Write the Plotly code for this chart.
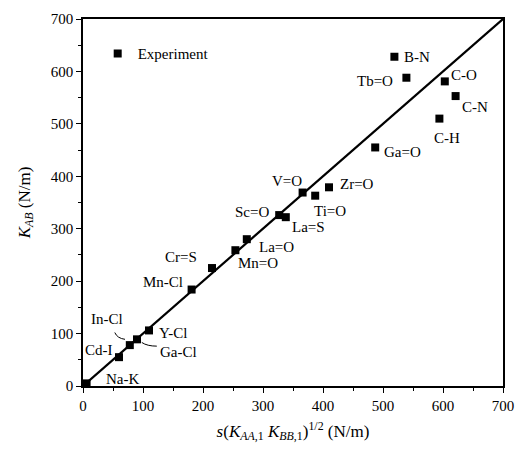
import plotly.graph_objects as go

# Data
labels = ["Na-K", "Cd-I", "In-Cl", "Ga-Cl", "Y-Cl", "Mn-Cl", "Cr=S", "Mn=O", "La=O",
          "La=S", "Sc=O", "V=O", "Ti=O", "Zr=O", "Ga=O", "C-H", "C-N", "C-O", "Tb=O", "B-N"]
x_vals = [6, 60, 78, 90, 110, 181, 215, 254, 273, 338, 327, 366, 387, 410, 487, 594, 621, 603, 539, 519]
y_vals = [5, 55, 78, 89, 106, 184, 225, 259, 280, 322, 326, 369, 363, 379, 455, 510, 553, 581, 588, 628]
line_x = [0, 700]
line_y = [0, 700]

# label offsets in pixels (dx, dy up)
label_offsets = {
    "Na-K": (36, 4), "Cd-I": (-20, 7), "In-Cl": (-23, 26), "Ga-Cl": (41, -13),
    "Y-Cl": (24, -3), "Mn-Cl": (-29, 8), "Cr=S": (-31, 11), "Mn=O": (23, -13),
    "La=O": (30, -8), "La=S": (23, -10), "Sc=O": (-27, 3), "V=O": (-16, 12),
    "Ti=O": (15, -15), "Zr=O": (28, 3), "Ga=O": (27, -5), "C-H": (8, -19),
    "C-N": (19, -11), "C-O": (19, 6), "Tb=O": (-31, -3), "B-N": (23, 0),
}

FONT = "Liberation Serif, Times New Roman, serif"

fig = go.Figure()
fig.add_trace(go.Scatter(x=line_x, y=line_y, mode="lines",
                         line=dict(color="black", width=2.2), showlegend=False))
fig.add_trace(go.Scatter(x=x_vals, y=y_vals, mode="markers", name="Experiment",
                         marker=dict(symbol="square", size=8, color="black")))

for lab, xv, yv in zip(labels, x_vals, y_vals):
    dx, dy = label_offsets[lab]
    fig.add_annotation(x=xv, y=yv, text=lab, showarrow=False, xshift=dx, yshift=dy,
                       font=dict(family=FONT, size=15, color="black"))

# small curved leader lines
fig.add_shape(type="path", path="M 53 102 Q 57 91 70 89", xref="x", yref="y",
              line=dict(color="black", width=1))
fig.add_shape(type="path", path="M 98 83 Q 107 76 123 76", xref="x", yref="y",
              line=dict(color="black", width=1))

axis_common = dict(
    range=[0, 700], dtick=100, showline=True, linecolor="black", linewidth=1.5,
    mirror=True, ticks="outside", ticklen=5, tickwidth=1.2, tickcolor="black",
    showgrid=False, zeroline=False,
    tickfont=dict(family=FONT, size=15, color="black"),
    minor=dict(ticks="outside", ticklen=3, tickwidth=1, tickcolor="black", dtick=50),
)

fig.update_xaxes(**axis_common,
                 title=dict(text="<i>s</i>(<i>K</i><sub><i>AA</i>,1</sub> <i>K</i><sub><i>BB</i>,1</sub>)<sup>1/2</sup> (N/m)",
                            font=dict(family=FONT, size=17, color="black"), standoff=12))
fig.update_yaxes(**axis_common,
                 title=dict(text="<i>K</i><sub><i>AB</i></sub> (N/m)",
                            font=dict(family=FONT, size=17, color="black"), standoff=16))

fig.update_layout(
    width=527, height=452,
    margin=dict(l=83, r=24, t=19, b=66),
    plot_bgcolor="white", paper_bgcolor="white",
    legend=dict(x=0.035, y=0.95, xanchor="left", yanchor="top",
                font=dict(family=FONT, size=15, color="black"), bgcolor="rgba(0,0,0,0)"),
)

fig.write_html("out.html")
